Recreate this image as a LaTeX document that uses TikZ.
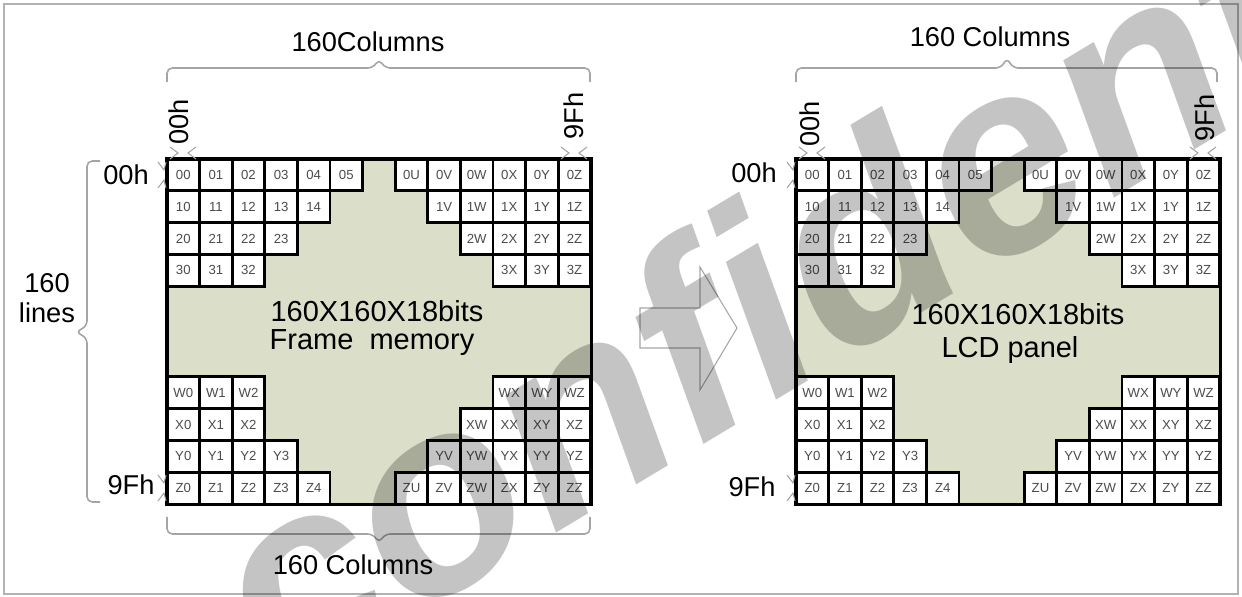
\documentclass[tikz,border=0pt]{standalone}
\usepackage{fontspec}
\setmainfont{Liberation Sans}
\usepackage{xcolor}
\definecolor{panelbg}{RGB}{219,223,201}
\definecolor{bracegray}{RGB}{165,165,165}

\begin{document}
\begin{tikzpicture}[
    x=0.02cm, y=-0.02cm,
    cell/.style={rectangle, draw, line width=1.5pt, fill=white, inner sep=0pt, minimum width=0.652cm, minimum height=0.636cm, font=\fontsize{7.5}{8}\selectfont, text=black!70},
    panel/.style={rectangle, fill=panelbg, inner sep=0pt, minimum width=8.48cm, minimum height=6.9cm, anchor=north west},
    lbl/.style={font=\fontsize{15.5}{17}\selectfont, inner sep=0pt},
    mid/.style={font=\fontsize{16.5}{18}\selectfont, inner sep=0pt},
    brc/.style={bracegray, line width=0.9pt, rounded corners=3pt},
    tick/.style={gray!70, line width=0.6pt},
    stamp/.style={font=\fontsize{155}{155}\selectfont\bfseries\itshape, text=black, opacity=0.23, rotate=31, inner sep=0pt}
]
    \useasboundingbox (0,0) rectangle (1242,597);
    \draw[gray!60, line width=1.2pt] (4,4) rectangle (1238,594);

    \node[panel] (fm)  at (167,159) {};
    \node[panel] (lcd) at (796,159) {};

    \foreach \g/\ox in {fm/167, lcd/796} {
        % upper corners
        \foreach \r/\n in {0/5,1/4,2/3,3/2}
            \foreach \c in {0,...,\n}
                \node[cell] (\g-\r\c) at ({\ox+(\c+0.5)*32.6}, {159+(\r+0.5)*31.8}) {\r\c};
        \foreach \r/\s in {0/7,1/8,2/9,3/10}
            \foreach \c/\l in {7/U,8/V,9/W,10/X,11/Y,12/Z}
                {\ifnum\c<\s\else
                    \node[cell] (\g-\r\l) at ({\ox+(\c+0.5)*32.6}, {159+(\r+0.5)*31.8}) {\r\l};
                \fi}
        % lower corners
        \foreach \a/\n [count=\i from 0] in {W/2,X/2,Y/3,Z/4}
            \foreach \c in {0,...,\n}
                \node[cell] (\g-\a\c) at ({\ox+(\c+0.5)*32.6}, {376.8+(\i+0.5)*31.8}) {\a\c};
        \foreach \a/\s [count=\i from 0] in {W/10,X/9,Y/8,Z/7}
            \foreach \c/\l in {7/U,8/V,9/W,10/X,11/Y,12/Z}
                {\ifnum\c<\s\else
                    \node[cell] (\g-\a\l) at ({\ox+(\c+0.5)*32.6}, {376.8+(\i+0.5)*31.8}) {\a\l};
                \fi}
    }
    \draw[line width=2pt] (fm.north west) rectangle (fm.south east);
    \draw[line width=2pt] (lcd.north west) rectangle (lcd.south east);

    \node[mid] (fm-size)  at (377,311) {160X160X18bits};
    \node[mid] (fm-name)  at (372,343) {Frame~ memory};
    \node[mid] (lcd-size) at (1018,314) {160X160X18bits};
    \node[mid] (lcd-name) at (1010,350) {LCD panel};

    % braces
    \draw[brc] (167,82) -- (167,68) -- (373,68) -- (379,59) -- (385,68) -- (590,68) -- (590,82);
    \draw[brc] (167,517) -- (167,534) -- (373,534) -- (379,543) -- (385,534) -- (590,534) -- (590,517);
    \draw[brc] (100,161) -- (87,161) -- (87,326) -- (76,332) -- (87,338) -- (87,502) -- (100,502);
    \draw[brc] (796,82) -- (796,68) -- (1001,68) -- (1007,58) -- (1013,68) -- (1217,68) -- (1217,82);

    \node[lbl] (fm-cols)  at (368,42)  {160Columns};
    \node[lbl] (fm-bcols) at (353,565) {160 Columns};
    \node[lbl] (lcd-cols) at (990,37)  {160 Columns};
    \node[lbl, align=center] (fm-lines) at (47,298) {160\\lines};

    \node[lbl] (fm-r0)  at (126,175) {00h};
    \node[lbl] (fm-r9)  at (131,485) {9Fh};
    \node[lbl] (lcd-r0) at (754,173) {00h};
    \node[lbl] (lcd-r9) at (752,487) {9Fh};
    \node[lbl, rotate=90] (fm-c0)  at (179,122)  {00h};
    \node[lbl, rotate=90] (fm-c9)  at (574,116)  {9Fh};
    \node[lbl, rotate=90] (lcd-c0) at (810,124)  {00h};
    \node[lbl, rotate=90] (lcd-c9) at (1205,118) {9Fh};

    % ticks
    \foreach \x in {183, 574, 812, 1203} {
        \draw[tick] (\x-13,147) -- (\x-5,153) -- (\x-13,159);
        \draw[tick] (\x+13,147) -- (\x+5,153) -- (\x+13,159);
    }
    \foreach \x/\y in {162/175, 162/488, 791/175, 791/488} {
        \draw[tick] (\x-4,\y-13) -- (\x+2,\y-5) -- (\x+4,\y-13);
        \draw[tick] (\x-4,\y+13) -- (\x+2,\y+5) -- (\x+4,\y+13);
    }

    \draw[gray!70, line width=0.6pt] (640,308) -- (700,308) -- (700,267) -- (737,328) -- (700,390) -- (700,348) -- (640,348) -- cycle;

    \node[stamp] (wm) at (885,222) {confidential};
\end{tikzpicture}
\end{document}
